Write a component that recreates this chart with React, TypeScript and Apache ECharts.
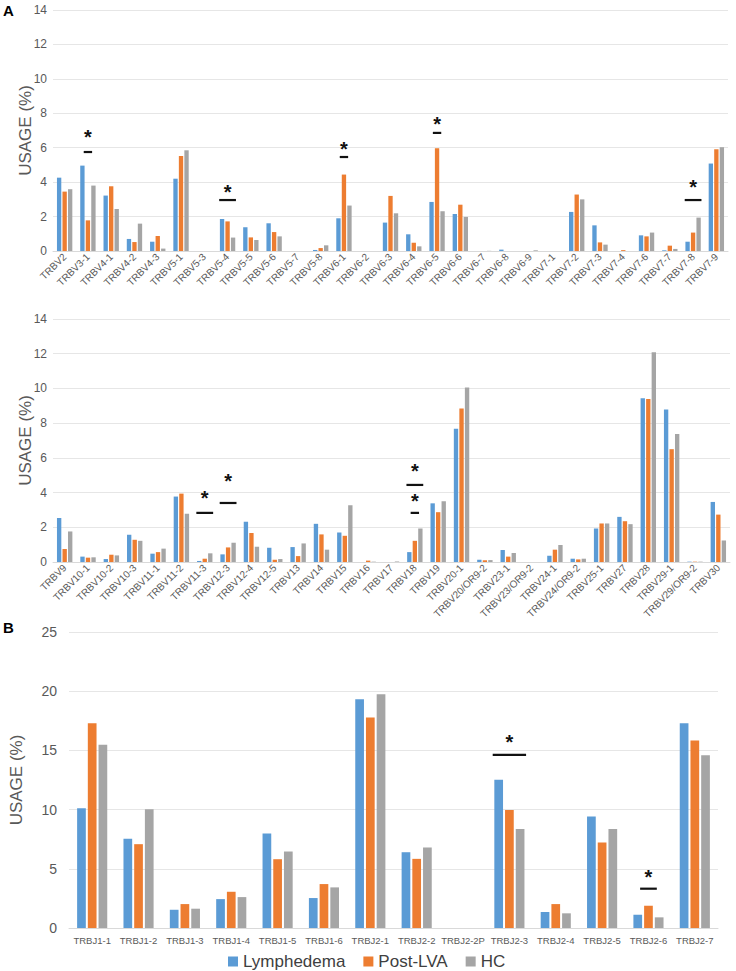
import React, { useEffect, useRef } from "react";
import * as echarts from "echarts";

const topCats = ["TRBV2","TRBV3-1","TRBV4-1","TRBV4-2","TRBV4-3","TRBV5-1","TRBV5-3","TRBV5-4","TRBV5-5","TRBV5-6","TRBV5-7","TRBV5-8","TRBV6-1","TRBV6-2","TRBV6-3","TRBV6-4","TRBV6-5","TRBV6-6","TRBV6-7","TRBV6-8","TRBV6-9","TRBV7-1","TRBV7-2","TRBV7-3","TRBV7-4","TRBV7-6","TRBV7-7","TRBV7-8","TRBV7-9"];
const topLymph = [4.26,4.96,3.22,0.70,0.54,4.20,0,1.86,1.38,1.61,0,0.06,1.90,0,1.65,0.97,2.85,2.15,0,0.08,0,0,2.27,1.49,0,0.91,0.04,0.54,5.08];
const topPost = [3.45,1.78,3.76,0.52,0.87,5.52,0,1.72,0.79,1.10,0,0.17,4.44,0,3.20,0.48,5.97,2.69,0,0,0,0,3.28,0.50,0.05,0.85,0.31,1.07,5.91];
const topHC = [3.59,3.80,2.44,1.59,0.14,5.85,0,0.78,0.64,0.85,0,0.33,2.64,0,2.19,0.27,2.31,1.98,0.01,0,0.04,0,3.00,0.37,0,1.07,0.12,1.94,6.03];

const midCats = ["TRBV9","TRBV10-1","TRBV10-2","TRBV10-3","TRBV11-1","TRBV11-2","TRBV11-3","TRBV12-3","TRBV12-4","TRBV12-5","TRBV13","TRBV14","TRBV15","TRBV16","TRBV17","TRBV18","TRBV19","TRBV20-1","TRBV20/OR9-2","TRBV23-1","TRBV23/OR9-2","TRBV24-1","TRBV24/OR9-2","TRBV25-1","TRBV27","TRBV28","TRBV29-1","TRBV29/OR9-2","TRBV30"];
const midLymph = [2.53,0.31,0.17,1.57,0.48,3.77,0.06,0.44,2.32,0.82,0.86,2.20,1.70,0,0,0.57,3.38,7.67,0.13,0.69,0,0.36,0.19,1.93,2.60,9.43,8.78,0.02,3.46];
const midPost = [0.75,0.25,0.42,1.28,0.57,3.94,0.19,0.84,1.67,0.13,0.34,1.59,1.51,0.08,0,1.22,2.87,8.85,0.10,0.31,0,0.71,0.15,2.22,2.35,9.39,6.50,0.02,2.73];
const midHC = [1.76,0.27,0.38,1.22,0.77,2.78,0.50,1.11,0.88,0.17,1.07,0.71,3.27,0.02,0.03,1.93,3.50,10.06,0.11,0.52,0,0.98,0.19,2.22,2.18,12.08,7.38,0.02,1.24];

const jCats = ["TRBJ1-1","TRBJ1-2","TRBJ1-3","TRBJ1-4","TRBJ1-5","TRBJ1-6","TRBJ2-1","TRBJ2-2","TRBJ2-2P","TRBJ2-3","TRBJ2-4","TRBJ2-5","TRBJ2-6","TRBJ2-7"];
const jLymph = [10.11,7.53,1.54,2.44,7.98,2.53,19.33,6.40,0,12.53,1.35,9.41,1.12,17.30];
const jPost = [17.30,7.08,2.02,3.06,5.81,3.71,17.78,5.84,0,9.97,2.02,7.22,1.88,15.84];
const jHC = [15.48,10.03,1.63,2.61,6.46,3.43,19.75,6.80,0,8.37,1.24,8.37,0.90,14.60];

// significance annotations: [category, bar level, asterisk level, wide bar (1) or short dash (0)]
const sigTop: [string, number, number, number][] = [
  ["TRBV3-1", 5.75, 6.86, 0],
  ["TRBV5-4", 2.96, 3.66, 1],
  ["TRBV6-1", 5.46, 6.16, 0],
  ["TRBV6-5", 6.86, 7.61, 0],
  ["TRBV7-8", 2.96, 3.95, 1],
];
const sigMid: [string, number, number, number][] = [
  ["TRBV11-3", 2.83, 3.93, 1],
  ["TRBV12-3", 3.4, 4.9, 1],
  ["TRBV18", 4.44, 5.47, 1],
  ["TRBV18", 2.83, 3.75, 0],
];
const sigBot: [string, number, number, number][] = [
  ["TRBJ2-3", 14.62, 16.05, 1],
  ["TRBJ2-6", 3.32, 4.67, 0],
];

const seriesNames = ["Lymphedema", "Post-LVA", "HC"];
const colors = ["#5B9BD5", "#ED7D31", "#A5A5A5"];
const FONT = "Liberation Sans, Arial, sans-serif";

export default function App() {
  const ref = useRef<HTMLDivElement>(null);
  useEffect(() => {
    if (!ref.current) return;
    const chart = echarts.init(ref.current, null, { renderer: "svg" });

    const gridLine = { show: true, lineStyle: { color: "#E6E6E6", width: 1 } };
    const mkX = (gi: number, cats: string[], rotate: number, fs: number, margin: number) => ({
      type: "category",
      gridIndex: gi,
      data: cats,
      axisTick: { show: false },
      axisLine: { show: true, lineStyle: { color: "#D9D9D9" } },
      axisLabel: { interval: 0, rotate, fontSize: fs, color: "#595959", fontFamily: FONT, margin },
    });
    const mkY = (gi: number, max: number, interval: number, fs: number, nameFs: number, gap: number, lm: number) => ({
      type: "value",
      gridIndex: gi,
      min: 0,
      max,
      interval,
      name: "USAGE (%)",
      nameLocation: "middle",
      nameGap: gap,
      nameMoveOverlap: false,
      nameTextStyle: { fontSize: nameFs, color: "#595959", fontFamily: FONT },
      axisLine: { show: false },
      axisTick: { show: false },
      splitLine: gridLine,
      axisLabel: { fontSize: fs, color: "#595959", fontFamily: FONT, margin: lm },
    });

    const bars = (gi: number, vals: number[][], cg: string, bg: string) =>
      vals.map((v, i) => ({
        type: "bar",
        name: seriesNames[i],
        xAxisIndex: gi,
        yAxisIndex: gi,
        data: v,
        itemStyle: { color: colors[i] },
        barCategoryGap: cg,
        barGap: bg,
      }));

    const sigSeries = (gi: number, cats: string[], sig: [string, number, number, number][]) => ({
      type: "custom",
      xAxisIndex: gi,
      yAxisIndex: gi,
      z: 10,
      silent: true,
      encode: { x: 0, y: 1 },
      data: sig.map((s) => [cats.indexOf(s[0]), s[1], s[2], s[3]]),
      renderItem: (params: any, api: any) => {
        const c = api.value(0);
        const p1 = api.coord([c, api.value(1)]);
        const p2 = api.coord([c, api.value(2)]);
        const cw = api.size([1, 0])[0];
        const half = cw * (api.value(3) ? 0.36 : 0.18);
        return {
          type: "group",
          children: [
            {
              type: "line",
              shape: { x1: p1[0] - half, y1: p1[1], x2: p1[0] + half, y2: p1[1] },
              style: { stroke: "#111", lineWidth: 2.2 },
            },
            {
              type: "text",
              x: p2[0],
              y: p2[1] + 4,
              style: {
                text: "*",
                fill: "#111",
                fontSize: 20,
                fontWeight: "bold",
                fontFamily: FONT,
                align: "center",
                verticalAlign: "middle",
              },
            },
          ],
        };
      },
    });

    chart.setOption({
      animation: false,
      backgroundColor: "#fff",
      textStyle: { fontFamily: FONT },
      grid: [
        { left: 53, right: 8, top: 10, height: 241 },
        { left: 53, right: 6, top: 319, height: 243 },
        { left: 65, right: 18, top: 632, height: 296 },
      ],
      xAxis: [
        mkX(0, topCats, 45, 10, 4),
        mkX(1, midCats, 45, 10, 4),
        mkX(2, jCats, 0, 9.5, 7),
      ],
      yAxis: [
        mkY(0, 14, 2, 12, 17, 19, 6),
        mkY(1, 14, 2, 12, 17, 19, 6),
        mkY(2, 25, 5, 14, 17, 44, 12),
      ],
      legend: {
        data: seriesNames,
        left: 223,
        top: 948,
        itemWidth: 10,
        itemHeight: 10,
        itemGap: 18,
        icon: "rect",
        textStyle: { fontSize: 17, color: "#404040", fontFamily: FONT },
      },
      graphic: [
        { type: "text", left: 3, top: 3, style: { text: "A", fontSize: 15, fontWeight: "bold", fill: "#000", fontFamily: FONT } },
        { type: "text", left: 3, top: 620, style: { text: "B", fontSize: 15, fontWeight: "bold", fill: "#000", fontFamily: FONT } },
      ],
      series: [
        ...bars(0, [topLymph, topPost, topHC], "34%", "27%"),
        ...bars(1, [midLymph, midPost, midHC], "34%", "27%"),
        ...bars(2, [jLymph, jPost, jHC], "35%", "23%"),
        sigSeries(0, topCats, sigTop),
        sigSeries(1, midCats, sigMid),
        sigSeries(2, jCats, sigBot),
      ],
    });
    return () => chart.dispose();
  }, []);
  return (
    <div
      ref={ref}
      style={{ position: "absolute", left: 0, top: 0, width: 736, height: 971, background: "#fff" }}
    />
  );
}
